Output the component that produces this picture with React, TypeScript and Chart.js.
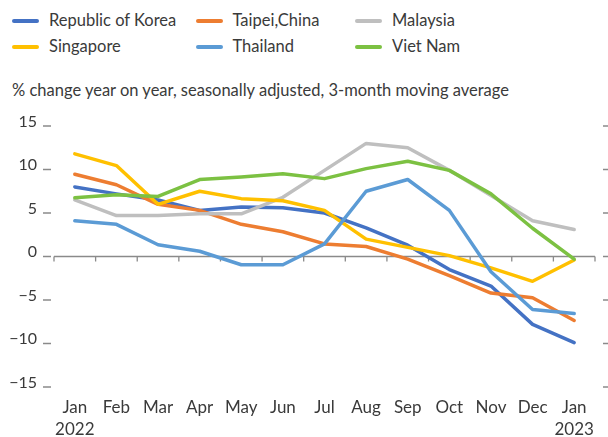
import React, { useEffect, useRef } from "react";
import { Chart, registerables } from "chart.js";

Chart.register(...registerables);

const categories: (string | string[])[] = [
  ["Jan", "2022"], "Feb", "Mar", "Apr", "May", "Jun", "Jul", "Aug", "Sep", "Oct", "Nov", "Dec", ["Jan", "2023"],
];

const korea = [8.0, 7.2, 6.5, 5.3, 5.7, 5.6, 5.0, 3.3, 1.3, -1.5, -3.4, -7.8, -9.9];
const taipei = [9.45, 8.25, 6.0, 5.3, 3.7, 2.85, 1.45, 1.15, -0.3, -2.2, -4.2, -4.75, -7.35];
const malaysia = [6.5, 4.7, 4.7, 4.9, 4.9, 6.8, 9.9, 13.0, 12.5, 9.9, 7.0, 4.1, 3.1];
const singapore = [11.8, 10.45, 6.0, 7.5, 6.65, 6.4, 5.3, 2.0, 1.05, 0.1, -1.3, -2.85, -0.4];
const thailand = [4.1, 3.7, 1.35, 0.6, -0.95, -0.95, 1.45, 7.5, 8.85, 5.3, -1.75, -6.1, -6.55];
const vietnam = [6.75, 7.1, 6.9, 8.85, 9.15, 9.5, 8.95, 10.1, 10.95, 9.9, 7.2, 3.25, -0.3];

const seriesNames = ["Republic of Korea", "Taipei,China", "Malaysia", "Singapore", "Thailand", "Viet Nam"];
const seriesData = [korea, taipei, malaysia, singapore, thailand, vietnam];
const seriesColors = ["#4472C4", "#ED7D31", "#BFBFBF", "#FFC000", "#5B9BD5", "#7CC142"];

const yTicks = [-15, -10, -5, 0, 5, 10, 15];
const subtitle = "% change year on year, seasonally adjusted, 3-month moving average";

const FONT = "Lato, 'Open Sans', sans-serif";
const TEXT = "#3a3a3a";
const AXIS = "#8a8a8a";

const axisPlugin = {
  id: "axisMarks",
  beforeDatasetsDraw(chart: any) {
    const { ctx, chartArea, scales } = chart;
    const x = scales.x;
    const y = scales.y;
    const zero = y.getPixelForValue(0);
    ctx.save();
    ctx.strokeStyle = AXIS;
    ctx.lineWidth = 1.3;
    ctx.beginPath();
    ctx.moveTo(chartArea.left, zero);
    ctx.lineTo(chartArea.right, zero);
    const n = categories.length;
    const w = (chartArea.right - chartArea.left) / n;
    for (let i = 0; i <= n; i++) {
      const px = i < n ? x.getPixelForValue(i) - w / 2 : x.getPixelForValue(n - 1) + w / 2;
      ctx.moveTo(px, zero);
      ctx.lineTo(px, zero + 5);
    }
    for (const t of yTicks) {
      const py = y.getPixelForValue(t);
      ctx.moveTo(chartArea.left - 11, py);
      ctx.lineTo(chartArea.left - 3, py);
      ctx.moveTo(chartArea.right + 8, py);
      ctx.lineTo(chartArea.right + 16, py);
    }
    ctx.stroke();
    ctx.restore();
  },
};

export default function App() {
  const ref = useRef<HTMLCanvasElement>(null);

  useEffect(() => {
    if (!ref.current) return;
    const chart = new Chart(ref.current, {
      type: "line",
      data: {
        labels: categories,
        datasets: seriesNames.map((name, i) => ({
          label: name,
          data: seriesData[i],
          borderColor: seriesColors[i],
          backgroundColor: seriesColors[i],
          borderWidth: 3.5,
          pointRadius: 0,
          tension: 0,
          borderJoinStyle: "round" as const,
          borderCapStyle: "round" as const,
          order: seriesNames.length - i,
        })),
      },
      options: {
        animation: false,
        responsive: false,
        events: [],
        layout: { padding: { left: 0, right: 13, top: 126, bottom: 0 } },
        plugins: {
          legend: { display: false },
          tooltip: { enabled: false },
        },
        scales: {
          x: {
            type: "category",
            offset: true,
            border: { display: false },
            grid: { display: false, drawTicks: false },
            ticks: {
              autoSkip: false,
              maxRotation: 0,
              padding: 9,
              color: TEXT,
              font: { family: FONT, size: 17, lineHeight: 1.33 },
            },
            afterFit(scale: any) {
              scale.height = 50;
            },
          },
          y: {
            min: -15,
            max: 15,
            border: { display: false },
            grid: { display: false, drawTicks: false },
            ticks: {
              stepSize: 5,
              padding: 17,
              labelOffset: -4.5,
              color: TEXT,
              font: { family: FONT, size: 16 },
              callback: (v: any) => (Number(v) < 0 ? "\u2212" + Math.abs(Number(v)) : String(v)),
            },
            afterFit(scale: any) {
              scale.width = 54;
            },
          },
        },
      },
      plugins: [axisPlugin],
    });
    return () => chart.destroy();
  }, []);

  const colX = [12, 195.5, 355];
  const rowY = [20.7, 46.7];

  return (
    <div style={{ position: "fixed", left: 0, top: 0, width: 608, height: 437, background: "#fff", overflow: "hidden", fontFamily: FONT, color: TEXT }}>
      {seriesNames.map((name, i) => {
        const col = i % 3;
        const row = Math.floor(i / 3);
        return (
          <React.Fragment key={name}>
            <div
              style={{
                position: "absolute",
                left: colX[col],
                top: rowY[row] - 2,
                width: 27,
                height: 4,
                borderRadius: 2,
                background: seriesColors[i],
              }}
            />
            <div
              style={{
                position: "absolute",
                left: colX[col] + 37,
                top: rowY[row] - 10.5,
                fontSize: 16.5,
                lineHeight: "20px",
                whiteSpace: "nowrap",
              }}
            >
              {name}
            </div>
          </React.Fragment>
        );
      })}
      <div
        style={{
          position: "absolute",
          left: 12,
          top: 80.5,
          fontSize: 16.5,
          lineHeight: "19.8px",
          whiteSpace: "nowrap",
        }}
      >
        {subtitle}
      </div>
      <canvas ref={ref} width={608} height={437} style={{ position: "absolute", left: 0, top: 0 }} />
    </div>
  );
}
